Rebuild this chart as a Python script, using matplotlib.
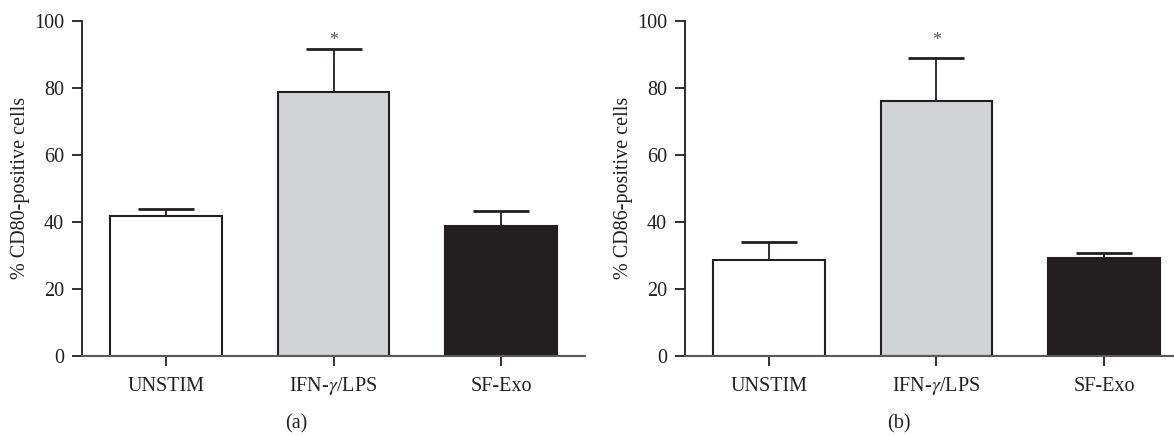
import matplotlib.pyplot as plt
import numpy as np

groups = ['UNSTIM', 'IFN-$\\gamma$/LPS', 'SF-Exo']
cd80_mean = [41.7, 78.8, 38.8]
cd80_err = [2.0, 12.8, 4.5]
cd86_mean = [28.6, 76.1, 29.1]
cd86_err = [5.3, 12.8, 1.6]
star_y = [94.0, 94.0]

plt.rcParams['font.family'] = ['Liberation Serif', 'DejaVu Serif']
plt.rcParams['mathtext.fontset'] = 'stix'
ink = '#231f20'
fills = ['white', '#d1d3d4', ink]

fig = plt.figure(figsize=(11.74, 4.36), dpi=100)
ax_a = fig.add_axes([82/1174, 80/436, 503/1174, 335.3/436])
ax_b = fig.add_axes([685/1174, 80/436, 503/1174, 335.3/436])

x = np.arange(len(groups))
panels = [(ax_a, cd80_mean, cd80_err, '% CD80-positive cells'),
          (ax_b, cd86_mean, cd86_err, '% CD86-positive cells')]
for i, (ax, mean, err, ylab) in enumerate(panels):
    # upper-only error bars, drawn behind the bars
    ax.errorbar(x, mean, yerr=[np.zeros(len(mean)), err], fmt='none',
                ecolor=ink, elinewidth=1.3, capsize=20, capthick=2, zorder=1)
    ax.bar(x, mean, width=0.665, color=fills, edgecolor=ink, linewidth=1.5, zorder=2)
    ax.text(1, star_y[i], '*', ha='center', va='center', fontsize=13, color='#555555')
    ax.set_xlim(-0.5, 2.5)
    ax.set_ylim(0, 100)
    ax.set_yticks([0, 20, 40, 60, 80, 100])
    ax.set_xticks(x)
    ax.set_xticklabels(groups)
    ax.set_ylabel(ylab, fontsize=14.5, color=ink, labelpad=3)
    for s in ['top', 'right']:
        ax.spines[s].set_visible(False)
    ax.spines['left'].set_color(ink)
    ax.spines['bottom'].set_color('#58595b')
    ax.spines['left'].set_linewidth(1.3)
    ax.spines['bottom'].set_linewidth(1.5)
    ax.tick_params(direction='out', length=7, width=1.3, colors=ink,
                   labelsize=14.5, pad=6)
    ax.tick_params(axis='x', pad=18)
    # align x labels on their baselines so the gamma doesn't push one down
    for lab in ax.get_xticklabels():
        lab.set_verticalalignment('baseline')

fig.text(296/1174, 1 - 428/436, '(a)', ha='center', va='baseline', fontsize=14.5, color=ink)
fig.text(899/1174, 1 - 428/436, '(b)', ha='center', va='baseline', fontsize=14.5, color=ink)

fig.savefig('out.png', dpi=100)
